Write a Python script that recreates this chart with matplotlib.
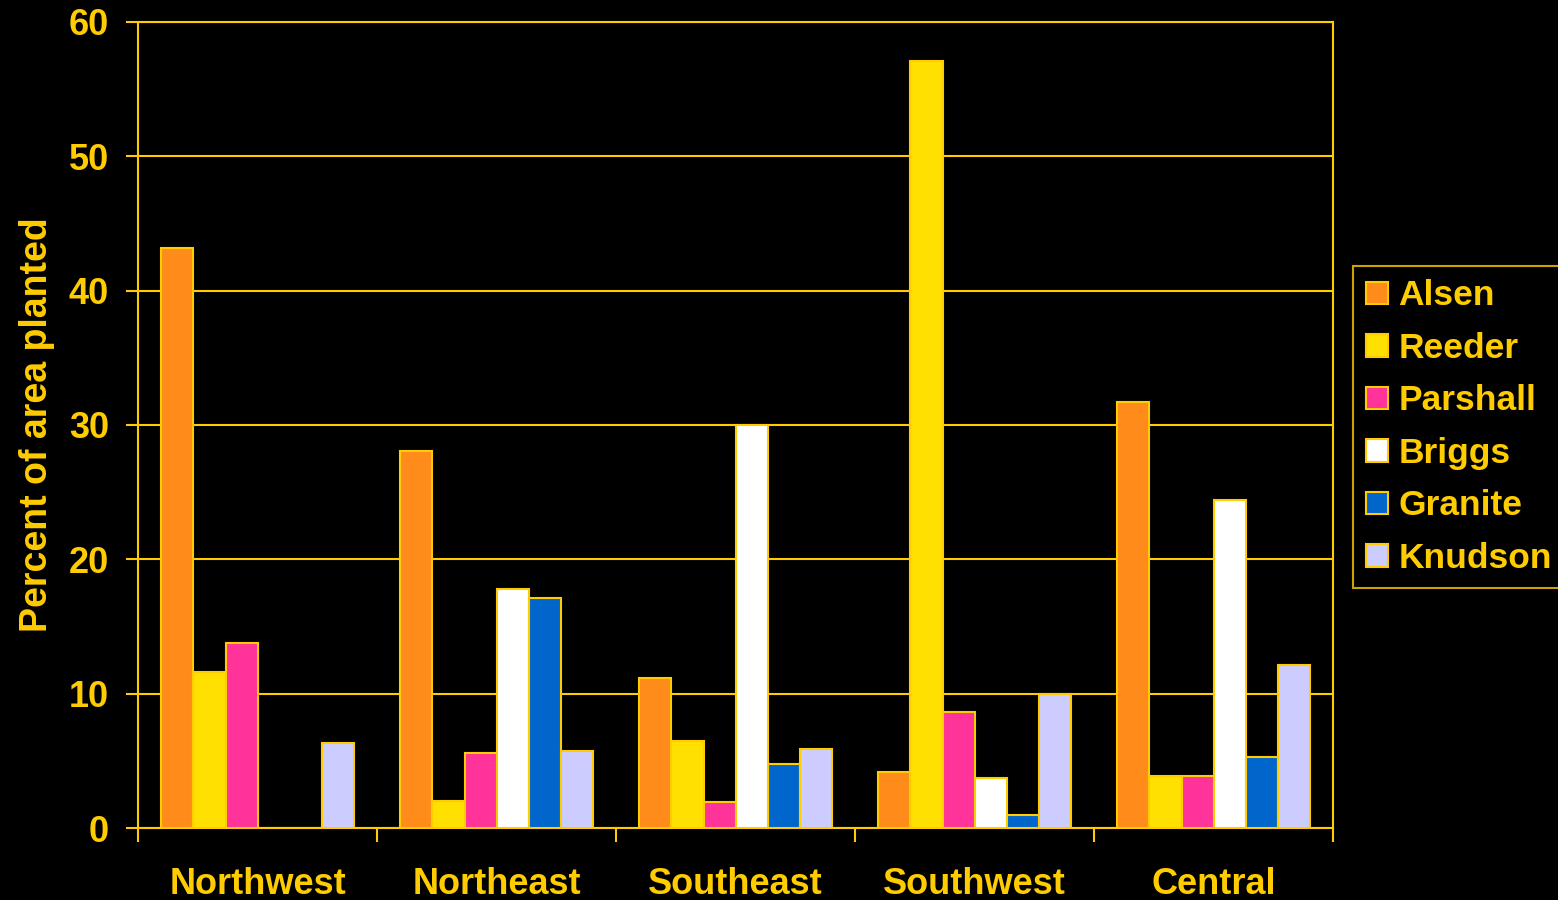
import numpy as np
import matplotlib
matplotlib.use('Agg')
import matplotlib.pyplot as plt

# data
regions = ['Northwest', 'Northeast', 'Southeast', 'Southwest', 'Central']
varieties = ['Alsen', 'Reeder', 'Parshall', 'Briggs', 'Granite', 'Knudson']
alsen = [43.2, 28.1, 11.2, 4.2, 31.7]
reeder = [11.6, 2.0, 6.5, 57.1, 3.9]
parshall = [13.8, 5.6, 1.9, 8.6, 3.9]
briggs = [0.0, 17.8, 30.0, 3.7, 24.4]
granite = [0.0, 17.1, 4.8, 1.0, 5.3]
knudson = [6.3, 5.7, 5.9, 10.0, 12.1]
colors = ['#FF8C1A', '#FFE000', '#FF3399', '#FFFFFF', '#0066CC', '#CCCCFF']

gold = '#FFCC00'
plt.rcParams['font.family'] = ['Liberation Sans', 'DejaVu Sans']
plt.rcParams['font.weight'] = 'bold'

fig = plt.figure(figsize=(15.58, 9), dpi=100, facecolor='black')
ax = fig.add_axes([0.0886, 0.08, 0.767, 0.8956], facecolor='black')

series = [alsen, reeder, parshall, briggs, granite, knudson]
x = np.arange(len(regions))
w = 0.134
for i, (name, vals) in enumerate(zip(varieties, series)):
    offs = (i - 2.5) * w
    ax.bar(x + offs, vals, width=w, color=colors[i], edgecolor=gold,
           linewidth=1.5, label=name, zorder=3)

ax.set_xlim(-0.5, 4.5)
ax.set_ylim(0, 60)
ax.set_yticks(range(0, 61, 10))
ax.grid(axis='y', color=gold, linewidth=1.5, zorder=0)

# category boundaries as major ticks, names on minor ticks
ax.set_xticks(np.arange(-0.5, 5, 1))
ax.set_xticklabels([])
ax.set_xticks(x, minor=True)
ax.set_xticklabels(regions, minor=True)
ax.tick_params(axis='x', which='major', length=10, width=1.5, color=gold)
ax.tick_params(axis='x', which='minor', length=0, pad=28, labelsize=26, labelcolor=gold)
ax.tick_params(axis='y', length=9, width=1.5, color=gold, pad=12, labelsize=26, labelcolor=gold)

for s in ax.spines.values():
    s.set_color(gold)
    s.set_linewidth(1.5)

ax.set_ylabel('Percent of area planted', color=gold, fontsize=27, fontweight='bold', labelpad=10)

leg = ax.legend(loc='upper left', bbox_to_anchor=(0.8684, 0.7044), bbox_transform=fig.transFigure,
                fontsize=25.5, frameon=True, fancybox=False, facecolor='black', edgecolor=gold,
                handlelength=0.6, handleheight=0.6, handletextpad=0.3, labelspacing=0.55,
                borderpad=0.38, borderaxespad=0)
leg.get_frame().set_linewidth(1.5)
for t in leg.get_texts():
    t.set_color(gold)

fig.savefig('out.png', dpi=100, facecolor='black')
